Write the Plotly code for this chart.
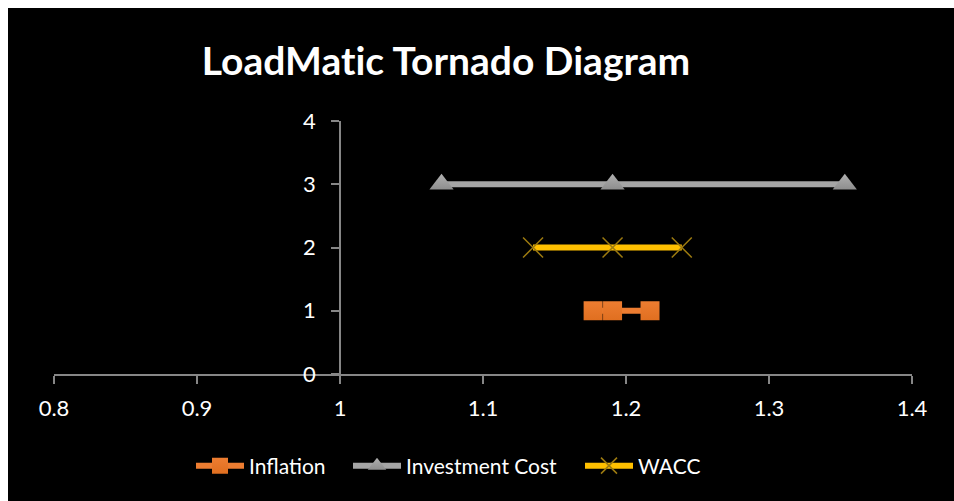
import plotly.graph_objects as go

series_names = ["Inflation", "Investment Cost", "WACC"]
inflation_x = [1.177, 1.1906, 1.2168]
inflation_y = [1, 1, 1]
invest_x = [1.071, 1.1906, 1.353]
invest_y = [3, 3, 3]
wacc_x = [1.135, 1.1906, 1.239]
wacc_y = [2, 2, 2]
x_ticks = [0.8, 0.9, 1.0, 1.1, 1.2, 1.3, 1.4]
x_tick_labels = ["0.8", "0.9", "1", "1.1", "1.2", "1.3", "1.4"]
y_ticks = [0, 1, 2, 3, 4]

FONT = "Lato"
W, H = 954, 501
L, R, T, B = 54, 42, 121, 127
pw, ph = W - L - R, H - T - B

def px_x(p):
    return (p - L) / pw

def px_y(p):
    return (H - B - p) / ph

fig = go.Figure()
fig.add_trace(go.Scatter(
    x=inflation_x, y=inflation_y, name=series_names[0], mode="lines+markers",
    legend="legend",
    line=dict(color="#ED7D31", width=6),
    marker=dict(symbol="square", size=19, color="#ED7D31",
                gradient=dict(type="vertical", color="#E06F20"),
                line=dict(width=0))))
fig.add_trace(go.Scatter(
    x=invest_x, y=invest_y, name=series_names[1], mode="lines+markers",
    legend="legend2",
    line=dict(color="#A5A5A5", width=6),
    marker=dict(symbol="triangle-up", size=21, color="#B0B0B0",
                gradient=dict(type="vertical", color="#8E8E8E"),
                line=dict(width=0))))
fig.add_trace(go.Scatter(
    x=wacc_x, y=wacc_y, name=series_names[2], mode="lines+markers",
    legend="legend3",
    line=dict(color="#FFC000", width=6),
    marker=dict(symbol="x-thin", size=20, color="#FFC000",
                line=dict(width=1.5, color="#9C7A10"))))

def leg(xpx):
    return dict(orientation="h", x=px_x(xpx), xanchor="left", y=px_y(466), yanchor="middle",
                font=dict(family=FONT, size=21, color="white"), bgcolor="rgba(0,0,0,0)",
                itemwidth=48)

fig.update_layout(
    width=W, height=H, autosize=False,
    margin=dict(l=L, r=R, t=T, b=B, pad=0),
    paper_bgcolor="black", plot_bgcolor="black",
    font=dict(family=FONT, color="white", size=21),
    title=dict(text="<b>LoadMat\u200cic Tornado Diagram</b>", x=(446) / W,
               xanchor="center", y=1 - 61 / H, yanchor="middle",
               font=dict(family=FONT, size=39, color="white")),
    showlegend=True,
    legend=leg(191),
    legend2=leg(348),
    legend3=leg(580),
    xaxis=dict(range=[0.8, 1.4], tickvals=x_ticks, ticktext=x_tick_labels,
               showgrid=False, zeroline=False, showline=True, linecolor="#868686", linewidth=1.5,
               ticks="outside", ticklen=8, tickwidth=1.5, tickcolor="#868686",
               tickfont=dict(family=FONT, size=22, color="white"), anchor="y",
               ticklabelstandoff=6),
    yaxis=dict(range=[0, 4], tickvals=y_ticks, showgrid=False, zeroline=False,
               showline=True, linecolor="#868686", linewidth=1.5,
               ticks="outside", ticklen=8, tickwidth=1.5, tickcolor="#868686",
               tickfont=dict(family=FONT, size=22, color="white"),
               anchor="free", position=(1.0 - 0.8) / (1.4 - 0.8), ticklabelstandoff=11),
    shapes=[
        dict(type="rect", xref="paper", yref="paper", layer="below",
             x0=px_x(-5), x1=px_x(8), y0=px_y(H + 5), y1=px_y(-5),
             fillcolor="white", line=dict(width=0)),
        dict(type="rect", xref="paper", yref="paper", layer="below",
             x0=px_x(-5), x1=px_x(W + 5), y0=px_y(8), y1=px_y(-5),
             fillcolor="white", line=dict(width=0)),
    ],
)

fig.write_html("out.html")
